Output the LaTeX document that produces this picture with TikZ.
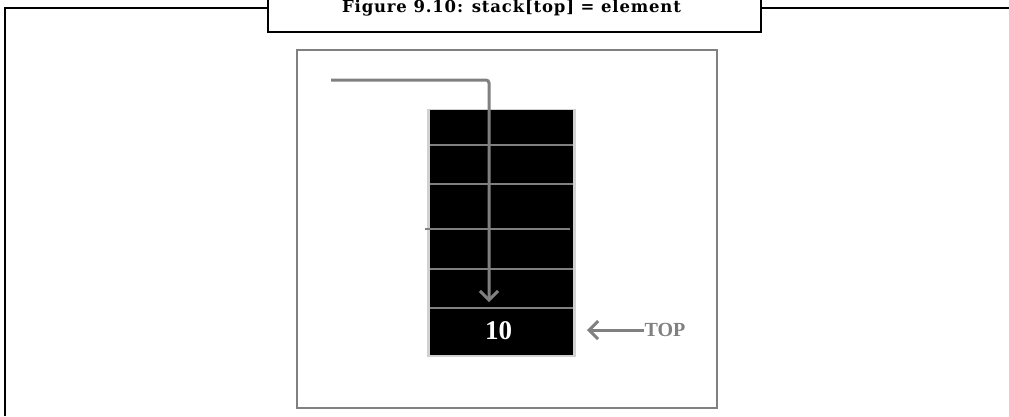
\documentclass[tikz,border=0pt]{standalone}
\usepackage{fontspec}
\setmainfont{Liberation Serif}
\newfontfamily\capfont[LetterSpace=5]{DejaVu Serif}
\usetikzlibrary{positioning, arrows.meta}

\definecolor{linegray}{HTML}{808080}
\tikzset{
    frame/.style={line width=2.2pt, black},
    sep/.style={line width=2pt, linegray},
    flow/.style={line width=3pt, linegray, -{Straight Barb[length=9pt, width=18pt, line width=3pt]}},
}

\begin{document}
\begin{tikzpicture}[x=1pt, y=-1pt]
    \useasboundingbox (0,0) rectangle (1009,416);

    % outer frame and caption
    \draw[frame] (5,416) -- (5,8) -- (268,8);
    \draw[frame] (761,8) -- (1009,8);
    \draw[frame, fill=white] (268,-5) rectangle (761,32);
    \node (caption) [anchor=base] at (511.5,12) {\capfont\fontsize{16.5}{19}\selectfont\bfseries Figure 9.10: stack[top] = element};

    % picture box
    \draw[linegray, line width=1.2pt] (297,50) rectangle (717,408);

    % the stack
    \fill[black!18] (427,109) rectangle (576,357);
    \node (stack) [fill=black, minimum width=143pt, minimum height=245pt, inner sep=0pt] at (501.5,232.5) {};
    \draw[sep] (430,145) -- (573,145);
    \draw[sep] (430,184) -- (573,184);
    \draw[sep] (425,229) -- (570,229);
    \draw[sep] (430,269) -- (573,269);
    \draw[sep] (430,308) -- (573,308);
    \node (ten) at (498.5,331) {\fontsize{27}{30}\selectfont\bfseries\color{white}10};

    % push arrow
    \coordinate (start) at (331,80);
    \coordinate (drop) at (489,302);
    \draw[flow, rounded corners=3pt] (start) -| (drop);

    % top pointer
    \node (toplbl) [inner sep=0pt, text=linegray] at (665,330) {\fontsize{20}{23}\selectfont\bfseries TOP};
    \coordinate (toptip) at (587,330);
    \draw[flow] (toplbl.west) -- (toptip);
\end{tikzpicture}
\end{document}
